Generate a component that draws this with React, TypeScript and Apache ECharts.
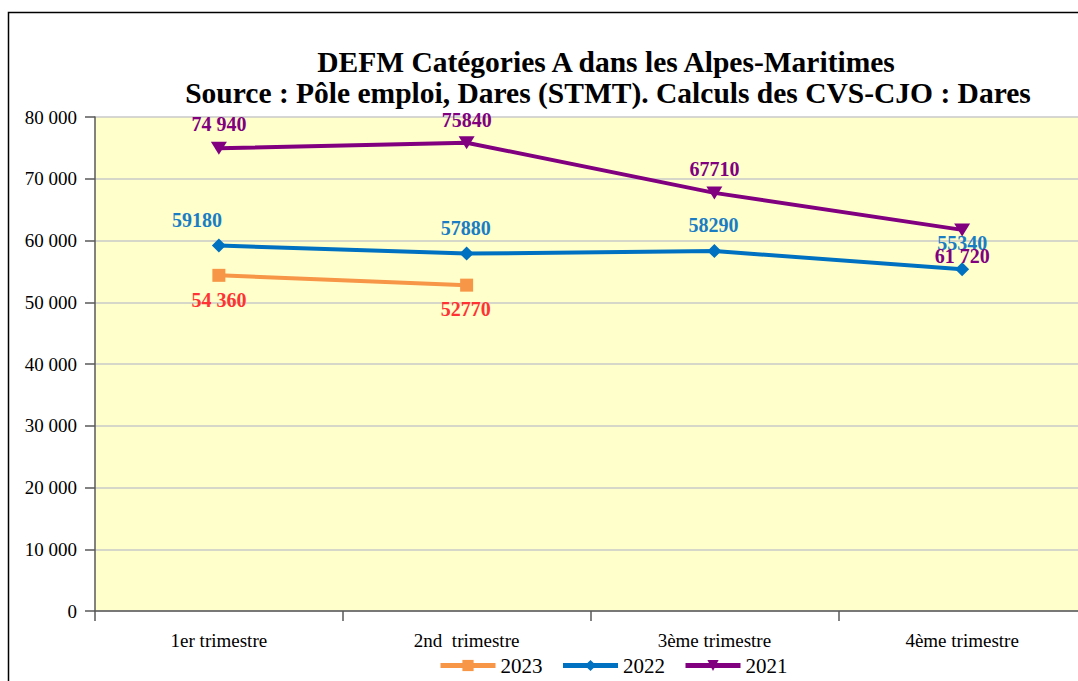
import React, { useEffect, useRef } from "react";
import * as echarts from "echarts";

const categories = ["1er trimestre", "2nd  trimestre", "3ème trimestre", "4ème trimestre"];
const yTicks = [0, 10000, 20000, 30000, 40000, 50000, 60000, 70000, 80000];

const values2023 = [54360, 52770];
const values2022 = [59180, 57880, 58290, 55340];
const values2021 = [74940, 75840, 67710, 61720];

const labels2023 = ["54 360", "52770"];
const labels2022 = ["59180", "57880", "58290", "55340"];
const labels2021 = ["74 940", "75840", "67710", "61 720"];

const offsets2023 = [[0, 25], [-1, 24]];
const offsets2022 = [[-22, -26], [-1, -26], [-1, -26], [0, -26]];
const offsets2021 = [[0, -24], [0, -23], [0, -24], [0, 26]];

const titleLine1 = "DEFM Catégories A dans les Alpes-Maritimes";
const titleLine2 = "Source : Pôle emploi, Dares (STMT). Calculs des CVS-CJO : Dares";

const SERIF = "'Liberation Serif', 'Times New Roman', serif";

function fmtThousands(v: number): string {
  return String(v).replace(/\B(?=(\d{3})+(?!\d))/g, " ");
}

function buildData(values: number[], labels: string[], offsets: number[][], color: string) {
  return values.map((v, i) => ({
    value: v,
    label: {
      show: true,
      position: "inside",
      offset: offsets[i],
      formatter: labels[i],
      color,
      fontFamily: SERIF,
      fontWeight: "bold",
      fontSize: 20,
    },
  }));
}

export default function App() {
  const ref = useRef<HTMLDivElement>(null);
  useEffect(() => {
    if (!ref.current) return;
    const chart = echarts.init(ref.current, undefined, { renderer: "svg" });
    chart.setOption({
      animation: false,
      backgroundColor: "#ffffff",
      graphic: [
        {
          type: "rect",
          shape: { x: 8.5, y: 12.5, width: 1200, height: 800 },
          style: { fill: "none", stroke: "#000000", lineWidth: 1.5 },
          z: 100,
        },
        {
          type: "text",
          x: 606,
          y: 62,
          style: {
            text: titleLine1,
            fontFamily: SERIF,
            fontWeight: "bold",
            fontSize: 29.5,
            fill: "#000000",
            align: "center",
            verticalAlign: "middle",
          },
        },
        {
          type: "text",
          x: 608,
          y: 93,
          style: {
            text: titleLine2,
            fontFamily: SERIF,
            fontWeight: "bold",
            fontSize: 29.5,
            fill: "#000000",
            align: "center",
            verticalAlign: "middle",
          },
        },
      ],
      grid: {
        left: 95,
        top: 117,
        width: 991,
        height: 494,
        show: true,
        backgroundColor: "#FFFFCC",
        borderWidth: 0,
      },
      legend: {
        data: ["2023", "2022", "2021"],
        left: 438,
        top: 655,
        padding: 0,
        itemWidth: 55,
        itemHeight: 14,
        itemGap: 18,
        lineStyle: { width: 5 },
        textStyle: { fontFamily: SERIF, fontSize: 21, color: "#000000" },
      },
      xAxis: {
        type: "category",
        data: categories,
        boundaryGap: true,
        axisLine: { lineStyle: { color: "#595959", width: 1.5 } },
        axisTick: { show: true, length: 10, lineStyle: { color: "#595959", width: 1.5 } },
        axisLabel: { fontFamily: SERIF, fontSize: 19, color: "#000000", margin: 20 },
      },
      yAxis: {
        type: "value",
        min: yTicks[0],
        max: yTicks[yTicks.length - 1],
        interval: yTicks[1] - yTicks[0],
        axisLine: { show: true, lineStyle: { color: "#595959", width: 1.5 } },
        axisTick: { show: true, length: 10, lineStyle: { color: "#595959", width: 1.5 } },
        axisLabel: {
          fontFamily: SERIF,
          fontSize: 19,
          color: "#000000",
          margin: 18,
          formatter: (v: number) => fmtThousands(v),
        },
        splitLine: { show: true, lineStyle: { color: "#C8C8C8", width: 1.5 } },
      },
      series: [
        {
          name: "2023",
          type: "line",
          data: buildData(values2023, labels2023, offsets2023, "#FF3333"),
          color: "#F79646",
          lineStyle: { width: 4, color: "#F79646" },
          itemStyle: { color: "#F79646" },
          symbol: "rect",
          symbolSize: 13,
          z: 3,
        },
        {
          name: "2022",
          type: "line",
          data: buildData(values2022, labels2022, offsets2022, "#1A7DC4"),
          color: "#0070C0",
          lineStyle: { width: 4, color: "#0070C0" },
          itemStyle: { color: "#0070C0" },
          symbol: "diamond",
          symbolSize: [14, 14],
          z: 2,
        },
        {
          name: "2021",
          type: "line",
          data: buildData(values2021, labels2021, offsets2021, "#800080"),
          color: "#800080",
          lineStyle: { width: 4, color: "#800080" },
          itemStyle: { color: "#800080" },
          symbol: "triangle",
          symbolRotate: 180,
          symbolSize: [16, 13],
          z: 4,
        },
      ],
    });
    return () => chart.dispose();
  }, []);
  return (
    <div
      style={{
        position: "absolute",
        left: 0,
        top: 0,
        width: 1078,
        height: 681,
        overflow: "hidden",
      }}
    >
      <div ref={ref} style={{ width: 1100, height: 681 }} />
    </div>
  );
}
